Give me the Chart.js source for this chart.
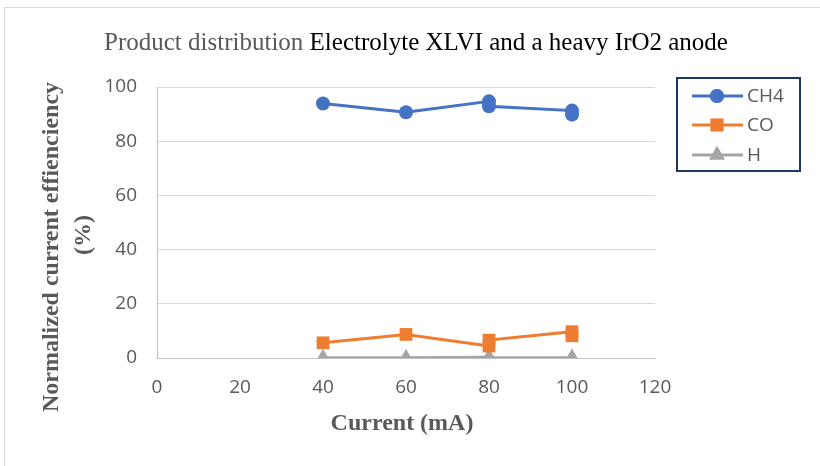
<!DOCTYPE html>
<html>
<head>
<meta charset="utf-8">
<style>
  html, body { margin: 0; padding: 0; background: #fff; }
  #frame { position: absolute; left: 4px; top: 7px; width: 840px; height: 480px; border: 1px solid #d9d9d9; box-sizing: border-box; }
  #wrap { position: absolute; left: 0; top: 0; width: 820px; height: 466px; }
</style>
<script src="https://cdn.jsdelivr.net/npm/chart.js@4/dist/chart.umd.min.js"></script>
</head>
<body>
<div id="frame"></div>
<div id="wrap"><canvas id="c" width="820" height="466"></canvas></div>
<script>
// Current (mA) for each measurement; 80 and 100 mA were measured twice
const currents = [40, 60, 80, 80, 100, 100];
// Normalized current efficiency (%) per product
const ch4 = [93.9, 90.7, 94.7, 92.9, 91.3, 89.8];
const co  = [5.6, 8.7, 4.4, 6.6, 9.7, 8.2];
const h   = [0.1, 0.1, 0.3, 0.2, 0.1, 0.1];

const seriesNames = ['CH4', 'CO', 'H'];
const xTicks = [0, 20, 40, 60, 80, 100, 120];
const yTicks = [0, 20, 40, 60, 80, 100];

const titleGray = 'Product distribution ';
const titleBlack = 'Electrolyte XLVI and a heavy IrO2 anode';
const xTitle = 'Current (mA)';
const yTitle = ['Normalized current effienciency', '(%)'];

const colors = ['#4472C4', '#ED7D31', '#A5A5A5'];
const styles = ['circle', 'rect', 'triangle'];
const radii = [7, 9, 9];

const toPoints = vals => vals.map((v, i) => ({ x: currents[i], y: v }));
const values = [ch4, co, h];

const datasets = values.map((vals, i) => ({
  label: seriesNames[i],
  data: toPoints(vals),
  showLine: true,
  borderColor: colors[i],
  backgroundColor: colors[i],
  borderWidth: 3,
  pointStyle: styles[i],
  pointRadius: radii[i],
  pointHoverRadius: radii[i],
  pointBorderWidth: 0,
  tension: 0
}));

const tickFont = { family: '"Open Sans", sans-serif', size: 19 };

// Title, axis titles and framed legend drawn on the canvas
const decor = {
  id: 'decor',
  afterDraw(chart) {
    const ctx = chart.ctx;
    ctx.save();

    // two-tone title
    ctx.font = '25px "Liberation Serif", "Times New Roman", serif';
    ctx.textBaseline = 'middle';
    ctx.textAlign = 'left';
    const w1 = ctx.measureText(titleGray).width;
    const w2 = ctx.measureText(titleBlack).width;
    const tx = 416 - (w1 + w2) / 2;
    ctx.fillStyle = '#595959';
    ctx.fillText(titleGray, tx, 43);
    ctx.fillStyle = '#000000';
    ctx.fillText(titleBlack, tx + w1, 43);

    // axis titles
    ctx.font = 'bold 24px "Liberation Serif", "Times New Roman", serif';
    ctx.fillStyle = '#595959';
    ctx.textAlign = 'center';
    ctx.fillText(xTitle, 402, 424);

    ctx.save();
    ctx.translate(52, 247);
    ctx.rotate(-Math.PI / 2);
    ctx.fillText(yTitle[0], 0, 0);
    ctx.fillText(yTitle[1], 12, 32);
    ctx.restore();

    // legend box
    const bx = 677, by = 78, bw = 123, bh = 93;
    ctx.strokeStyle = '#1F3864';
    ctx.lineWidth = 2;
    ctx.strokeRect(bx, by, bw, bh);
    const rows = [96, 125, 155];
    ctx.font = '19px "Open Sans", sans-serif';
    ctx.textAlign = 'left';
    chart.data.datasets.forEach((ds, i) => {
      const y = rows[i];
      ctx.strokeStyle = ds.borderColor;
      ctx.lineWidth = 3;
      ctx.beginPath();
      ctx.moveTo(692, y);
      ctx.lineTo(743, y);
      ctx.stroke();
      ctx.fillStyle = ds.backgroundColor;
      Chart.helpers.drawPoint(ctx, { pointStyle: ds.pointStyle, radius: ds.pointRadius, borderWidth: 0 }, 717, y);
      ctx.fill();
      ctx.fillStyle = '#595959';
      ctx.fillText(ds.label, 747, y + 1);
    });
    ctx.restore();
  }
};

new Chart(document.getElementById('c'), {
  type: 'scatter',
  data: { datasets },
  options: {
    responsive: false,
    animation: false,
    layout: { padding: { left: 0, top: 87, right: 165, bottom: 0 } },
    plugins: { legend: { display: false }, tooltip: { enabled: false }, title: { display: false } },
    scales: {
      x: {
        type: 'linear',
        min: 0, max: 120,
        afterBuildTicks: s => { s.ticks = xTicks.map(v => ({ value: v })); },
        afterFit: s => { s.height = 108; },
        grid: { display: false, drawTicks: false },
        border: { display: true, color: '#bfbfbf', width: 1 },
        ticks: { color: '#595959', font: tickFont, padding: 18, maxRotation: 0 }
      },
      y: {
        min: 0, max: 100,
        afterBuildTicks: s => { s.ticks = yTicks.map(v => ({ value: v })); },
        afterFit: s => { s.width = 157; },
        grid: { color: '#d9d9d9', lineWidth: 1, drawTicks: false },
        border: { display: true, color: '#bfbfbf', width: 1 },
        ticks: { color: '#595959', font: tickFont, padding: 20 }
      }
    }
  },
  plugins: [decor]
});
</script>
</body>
</html>
